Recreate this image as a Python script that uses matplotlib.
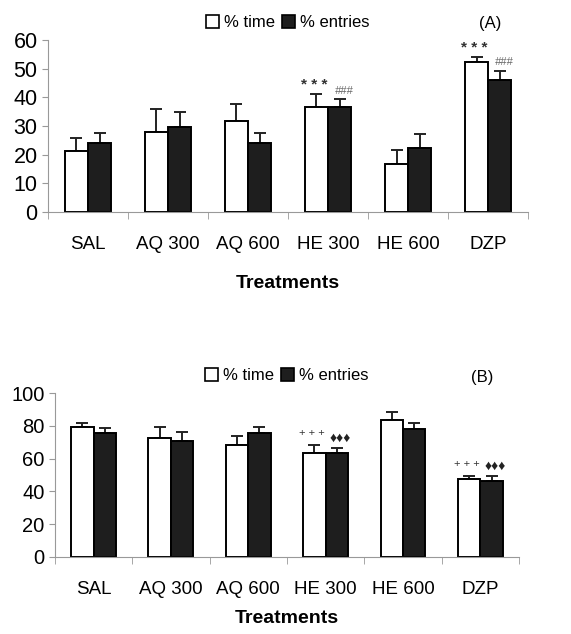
import matplotlib.pyplot as plt
import numpy as np

plt.rcParams['font.family'] = ['Liberation Sans', 'DejaVu Sans']

treatments = ["SAL", "AQ 300", "AQ 600", "HE 300", "HE 600", "DZP"]

# panel A
a_time = [21.4, 28.0, 31.7, 36.5, 16.6, 52.2]
a_time_err = [4.3, 7.8, 5.9, 4.7, 5.1, 1.8]
a_entries = [24.2, 29.5, 24.2, 36.5, 22.4, 46.0]
a_entries_err = [3.4, 5.2, 3.4, 2.9, 4.7, 3.3]
a_marks_time = ["", "", "", "* * *", "", "* * *"]
a_marks_entries = ["", "", "", "###", "", "###"]

# panel B
b_time = [79.0, 72.5, 68.2, 63.2, 83.4, 47.8]
b_time_err = [3.0, 7.1, 5.5, 5.0, 5.3, 1.6]
b_entries = [75.5, 70.6, 75.5, 63.2, 77.9, 46.4]
b_entries_err = [3.2, 5.7, 4.1, 3.2, 4.1, 3.2]
b_marks_time = ["", "", "", "+ + +", "", "+ + +"]
b_marks_entries = ["", "", "", "\u2666\u2666\u2666", "", "\u2666\u2666\u2666"]

fig = plt.figure(figsize=(5.71, 6.34), dpi=100)
ax1 = fig.add_axes([0.084, 0.6656, 0.841, 0.2714])
ax2 = fig.add_axes([0.096, 0.1215, 0.813, 0.2585])

w = 0.29
x = np.arange(len(treatments))


def panel(ax, t, te, e, ee, mt, me, ymax, step, tag, ysize, lpad, mark_style):
    ax.bar(x - w / 2, t, w, color="white", edgecolor="black", linewidth=1.4, zorder=2)
    ax.bar(x + w / 2, e, w, color="#1e1e1e", edgecolor="black", linewidth=1.4, zorder=2)
    ax.errorbar(x - w / 2, t, yerr=[np.zeros(6), te], fmt="none", ecolor="#222222",
                elinewidth=1.4, capsize=4, capthick=1.4, zorder=1)
    ax.errorbar(x + w / 2, e, yerr=[np.zeros(6), ee], fmt="none", ecolor="#222222",
                elinewidth=1.4, capsize=4, capthick=1.4, zorder=1)
    for i in range(6):
        if mt[i]:
            ax.text(x[i] - w / 2 - 0.03, t[i] + te[i] + ymax * mark_style[3], mt[i],
                    ha="center", va="bottom", fontsize=mark_style[0], color="#333333",
                    fontweight=mark_style[4])
        if me[i]:
            ax.text(x[i] + w / 2 + 0.05, e[i] + ee[i] + ymax * 0.02, me[i], ha="center",
                    va="bottom", fontsize=mark_style[1], color=mark_style[5],
                    style=mark_style[2])
    ax.set_xlim(-0.5, 5.5)
    ax.set_ylim(0, ymax)
    ax.set_yticks(np.arange(0, ymax + 1, step))
    ax.set_xticks(x)
    ax.set_xticklabels(treatments, fontsize=13.5)
    ax.set_xticks(np.arange(-0.5, 6, 1), minor=True)
    ax.tick_params(axis="x", which="major", length=0, pad=17)
    ax.tick_params(axis="x", which="minor", length=5, color="#999999", direction="out")
    ax.tick_params(axis="y", labelsize=ysize, length=4, color="#999999", direction="out")
    for s in ["top", "right"]:
        ax.spines[s].set_visible(False)
    for s in ["left", "bottom"]:
        ax.spines[s].set_color("#999999")
    ax.set_xlabel("Treatments", fontsize=14, fontweight="bold", labelpad=lpad)
    h1 = plt.Rectangle((0, 0), 1, 1, facecolor="white", edgecolor="black", linewidth=1.2)
    h2 = plt.Rectangle((0, 0), 1, 1, facecolor="#1e1e1e", edgecolor="black", linewidth=1.2)
    ax.legend([h1, h2], ["% time", "% entries"], loc="lower center",
              bbox_to_anchor=(0.5, 1.0), ncol=2, frameon=False, fontsize=12,
              handlelength=0.8, handleheight=0.8, handletextpad=0.3, columnspacing=0.4,
              borderaxespad=0.2)
    ax.text(0.92, 1.05, tag, transform=ax.transAxes, fontsize=12, ha="center", va="bottom")


panel(ax1, a_time, a_time_err, a_entries, a_entries_err, a_marks_time, a_marks_entries,
      60, 10, "(A)", 15.5, 16, (11, 8, "italic", 0.01, "bold", "#666666"))
panel(ax2, b_time, b_time_err, b_entries, b_entries_err, b_marks_time, b_marks_entries,
      100, 20, "(B)", 14.5, 9, (8, 10, "normal", 0.045, "normal", "#222222"))

fig.savefig("out.png", dpi=100)
